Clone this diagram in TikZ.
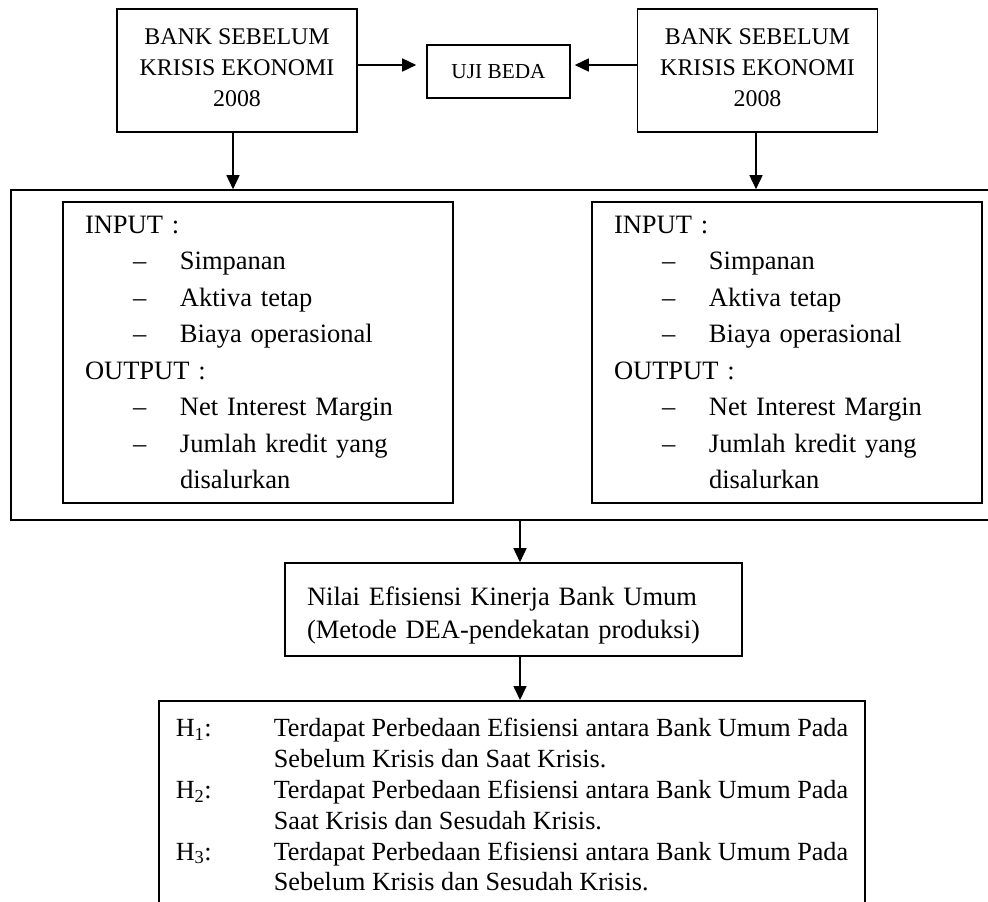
\documentclass[tikz,border=0pt]{standalone}
\usepackage{fontspec}
\setmainfont{Liberation Serif}
\usetikzlibrary{arrows.meta,positioning}
\newcommand{\butir}[1]{\hspace*{48pt}\makebox[47pt][l]{\textendash}#1}
\newcommand{\isian}{INPUT :\\ \butir{Simpanan}\\ \butir{Aktiva tetap}\\ \butir{Biaya operasional}\\
  OUTPUT :\\ \butir{Net Interest Margin}\\ \butir{Jumlah kredit yang}\\ \hspace*{95pt}disalurkan}
\begin{document}
\begin{tikzpicture}[x=1pt,y=-1pt,
    kotak/.style={draw,line width=1.6pt,inner sep=0pt,align=center},
    panah/.style={line width=1.6pt,-{Triangle[length=14pt,width=13pt]}}]
        \clip (0,0) rectangle (988,902);
        % baris atas
        \node[kotak,minimum width=240pt,minimum height=123pt,font={\fontsize{23.9}{31}\selectfont}] (bankKiri) at (237,70.5) {BANK SEBELUM\\KRISIS EKONOMI\\2008\rule[-6pt]{0pt}{6pt}};
        \node[kotak,minimum width=240pt,minimum height=123pt,font={\fontsize{23.9}{31}\selectfont}] (bankKanan) at (757.5,70.5) {BANK SEBELUM\\KRISIS EKONOMI\\2008\rule[-6pt]{0pt}{6pt}};
        \node[kotak,minimum width=143pt,minimum height=53pt,font={\fontsize{21.3}{26}\selectfont}] (uji) at (498.5,71.5) {UJI BEDA};
        % kotak besar dan isinya
        \node[kotak,minimum width=989pt,minimum height=330pt] (besar) at (505.5,355) {};
        \node[kotak,minimum width=390pt,minimum height=301pt,text width=346pt,align=left,font={\fontsize{26.5}{36.5}\selectfont}] (inKiri) at (258,352.5) {\isian};
        \node[kotak,minimum width=390pt,minimum height=301pt,text width=346pt,align=left,font={\fontsize{26.5}{36.5}\selectfont}] (inKanan) at (787,352.5) {\isian};
        % hasil
        \node[kotak,minimum width=457pt,minimum height=93pt,text width=413pt,align=left,font={\fontsize{26.5}{33}\selectfont}] (nilai) at (513.5,609.5) {\rule{0pt}{31pt}Nilai Efisiensi Kinerja Bank Umum\\(Metode DEA-pendekatan produksi)};
        \node[kotak,anchor=north west,inner xsep=17pt,inner ysep=14.5pt,align=left,font={\fontsize{26.2}{30.8}\selectfont}] (hipotesis) at (158,700) {%
          \begin{tabular}{@{}p{98pt}@{}l@{}}
          H\textsubscript{1}: & Terdapat Perbedaan Efisiensi antara Bank Umum Pada\\
           & Sebelum Krisis dan Saat Krisis.\\
          H\textsubscript{2}: & Terdapat Perbedaan Efisiensi antara Bank Umum Pada\\
           & Saat Krisis dan Sesudah Krisis.\\
          H\textsubscript{3}: & Terdapat Perbedaan Efisiensi antara Bank Umum Pada\\
           & Sebelum Krisis dan Sesudah Krisis.
          \end{tabular}};
        % panah
        \draw[panah,shorten >=10pt] ([yshift=5.5pt]bankKiri.east) -- ([yshift=5.5pt]bankKiri.east -| uji.west);
        \draw[panah,shorten >=4pt] ([yshift=5.5pt]bankKanan.west) -- ([yshift=5.5pt]bankKanan.west -| uji.east);
        \draw[panah] ([xshift=-4pt]bankKiri.south) -- ([xshift=-4pt]bankKiri.south |- besar.north);
        \draw[panah] ([xshift=-1.5pt]bankKanan.south) -- ([xshift=-1.5pt]bankKanan.south |- besar.north);
        \draw[panah] ([xshift=6.5pt]nilai.north |- besar.south) -- ([xshift=6.5pt]nilai.north);
        \draw[panah] ([xshift=6.5pt]nilai.south) -- ([xshift=6.5pt]nilai.south |- hipotesis.north);
    \end{tikzpicture}
\end{document}
